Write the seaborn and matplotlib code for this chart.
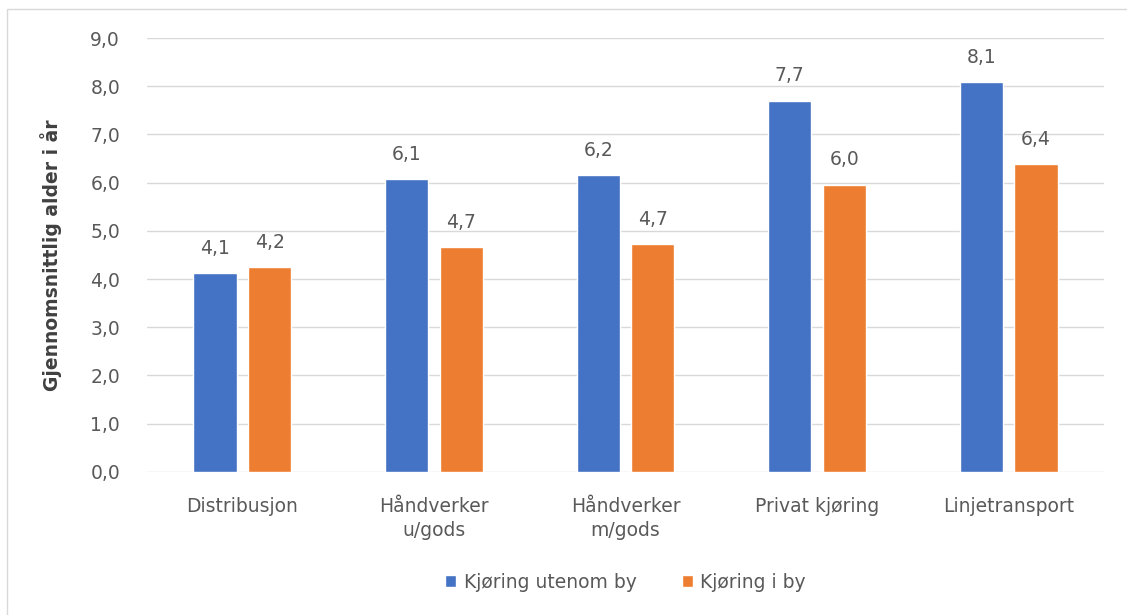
import pandas as pd
import seaborn as sns
import matplotlib.pyplot as plt
from matplotlib.patches import Rectangle

# data
categories = ['Distribusjon', 'Håndverker\nu/gods', 'Håndverker\nm/gods', 'Privat kjøring', 'Linjetransport']
utenom_by = [4.12, 6.08, 6.15, 7.70, 8.08]
i_by = [4.24, 4.66, 4.72, 5.96, 6.38]
series_names = ['Kjøring utenom by', 'Kjøring i by']
colors = ['#4472C4', '#ED7D31']

df = pd.DataFrame({
    'kategori': categories * 2,
    'serie': [series_names[0]] * 5 + [series_names[1]] * 5,
    'alder': utenom_by + i_by,
})

sns.set_style('white')
plt.rcParams['font.family'] = ['DejaVu Sans']
text_color = '#595959'

fig = plt.figure(figsize=(11.27, 6.15), dpi=100)
ax = fig.add_axes([0.130, 0.233, 0.850, 0.705])

sns.barplot(data=df, x='kategori', y='alder', hue='serie', palette=colors,
            width=0.57, gap=0.21, ax=ax, saturation=1, legend=True)

ax.set_ylim(0, 9)
ax.set_yticks(range(0, 10))
ax.set_yticklabels([f'{v:.1f}'.replace('.', ',') for v in range(0, 10)])
ax.yaxis.grid(True, color='#D9D9D9', linewidth=1)
ax.set_axisbelow(True)
for s in ax.spines.values():
    s.set_visible(False)
ax.tick_params(axis='y', length=0, labelsize=13.5, colors=text_color, pad=19)
ax.tick_params(axis='x', length=0, labelsize=13.5, colors=text_color, pad=18)
for lbl in ax.get_xticklabels():
    lbl.set_linespacing(1.35)
ax.set_xlabel('')
ax.set_ylabel('Gjennomsnittlig alder i år', fontsize=13.5, fontweight='bold',
              color='#404040', labelpad=20)

for cont in ax.containers:
    ax.bar_label(cont, labels=[f'{v:.1f}'.replace('.', ',') for v in cont.datavalues],
                 padding=11, fontsize=13.5, color=text_color)

leg = ax.legend(loc='center', bbox_to_anchor=(0.5, -0.255), ncol=2, frameon=False,
                fontsize=13.5, handlelength=0.6, handleheight=0.6, columnspacing=2.4,
                handletextpad=0.4)
for t in leg.get_texts():
    t.set_color(text_color)

# light frame around the chart area
fig.patches.append(Rectangle((7 / 1127, -0.05), 1.1, 1 - 9 / 615 + 0.05,
                             transform=fig.transFigure, fill=False,
                             edgecolor='#D9D9D9', linewidth=1))

fig.savefig('out.png', dpi=100)
